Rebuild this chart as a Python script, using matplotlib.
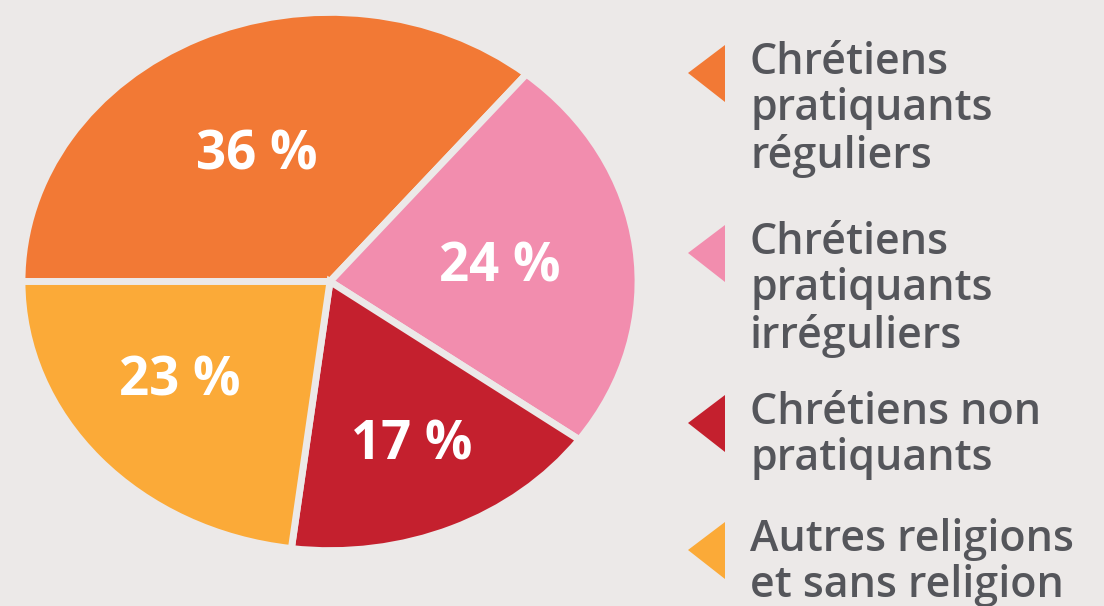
import matplotlib
matplotlib.use("Agg")
import matplotlib.pyplot as plt
from matplotlib.patches import Polygon
import numpy as np

plt.rcParams['font.family'] = ['Open Sans', 'DejaVu Sans']

# data
categories = ["Chrétiens\npratiquants\nréguliers",
              "Chrétiens\npratiquants\nirréguliers",
              "Chrétiens non\npratiquants",
              "Autres religions\net sans religion"]
values = [36, 24, 17, 23]
colors = ["#F27935", "#F28DAE", "#C4202E", "#FBAA38"]

bg = "#ECE9E8"
W, H = 1104, 606

fig = plt.figure(figsize=(W / 100, H / 100), dpi=100, facecolor=bg)

# pie (stretched horizontally like the original)
ax = fig.add_axes([25 / W, 1 - 548 / H, 610 / W, 533 / H])
ax.set_facecolor(bg)
wedges, _ = ax.pie(values, colors=colors, startangle=180, counterclock=False,
                   radius=1.01, wedgeprops=dict(edgecolor=bg, linewidth=5))
ax.set_aspect('auto')
ax.set_xlim(-1, 1)
ax.set_ylim(-1, 1)
ax.axis('off')

# label placement inside slices (distance, angle offset in degrees)
label_dist = [0.53, 0.56, 0.67, 0.62]
angle_shift = [1.6, -1.9, 0.1, -4.1]
for w, v, d, s in zip(wedges, values, label_dist, angle_shift):
    ang = np.deg2rad((w.theta1 + w.theta2) / 2 + s)
    ax.text(d * np.cos(ang), d * np.sin(ang), "%d %%" % v,
            ha='center', va='center', color='white', fontsize=38,
            fontweight='bold')

# legend drawn in pixel coordinates
lax = fig.add_axes([0, 0, 1, 1])
lax.set_xlim(0, W)
lax.set_ylim(H, 0)
lax.axis('off')
tops = [45, 225, 395, 522]
for lab, col, t in zip(categories, colors, tops):
    tri = Polygon([[688, t + 28], [725, t], [725, t + 57]], closed=True,
                  facecolor=col, edgecolor='none')
    lax.add_patch(tri)
    lax.text(750, t - 4, lab, ha='left', va='top', fontsize=31,
             fontweight='semibold', color='#55565B', linespacing=1.1)

fig.savefig("out.png", dpi=100, facecolor=bg)
